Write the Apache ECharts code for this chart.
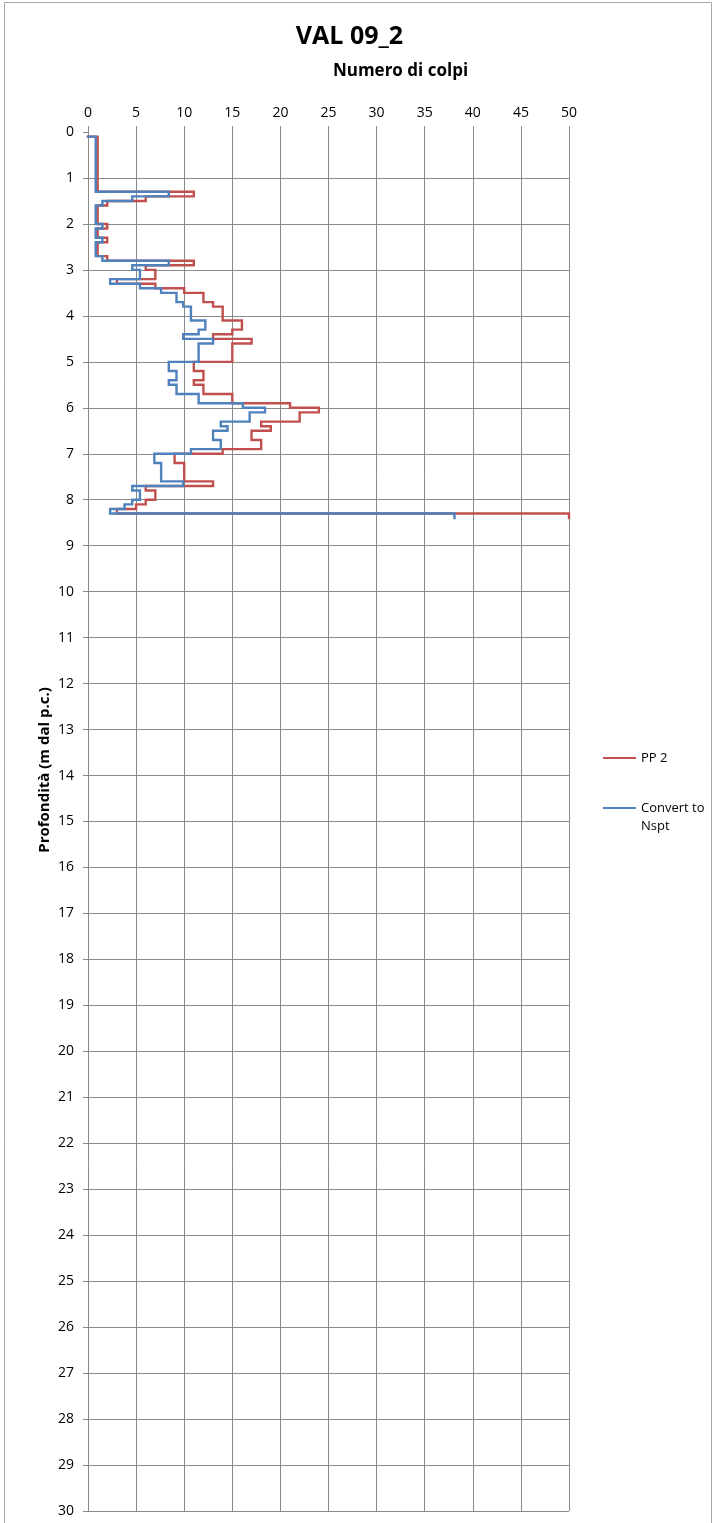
<!DOCTYPE html>
<html>
<head>
<meta charset="utf-8">
<script src="https://cdn.jsdelivr.net/npm/echarts@6/dist/echarts.min.js"></script>
<style>
  html, body { margin: 0; padding: 0; background: #ffffff; }
  #chart { width: 712px; height: 1523px; }
</style>
</head>
<body>
<div id="chart"></div>
<script>
// ---- data (step profile, depth in m) ----
const chartTitle = 'VAL 09_2';
const xAxisTitle = 'Numero di colpi';
const yAxisTitle = 'Profondità (m dal p.c.)';
const seriesNames = ['PP 2', 'Convert to Nspt'];

// top depth of each layer; each layer ends at the next top, the last at lastBottom
const layerTop = [0.1, 1.3, 1.4, 1.5, 1.6, 2.0, 2.1, 2.3, 2.4, 2.7,
                  2.8, 2.9, 3.0, 3.2, 3.3, 3.4, 3.5, 3.7, 3.8, 4.1,
                  4.3, 4.4, 4.5, 4.6, 5.0, 5.2, 5.4, 5.5, 5.7, 5.9,
                  6.0, 6.1, 6.3, 6.4, 6.5, 6.7, 6.9, 7.0, 7.2, 7.6,
                  7.7, 7.8, 8.0, 8.1, 8.2, 8.3];
const lastBottom = 8.4;
const startPoint = [0, 0.1];

const ppValues = [1, 11, 6, 2, 1, 2, 1, 2, 1, 2,
                  11, 6, 7, 3, 7, 10, 12, 13, 14, 16,
                  15, 13, 17, 15, 11, 12, 11, 12, 15, 21,
                  24, 22, 18, 19, 17, 18, 14, 9, 10, 13,
                  6, 7, 6, 5, 3, 50];

const nsptValues = [0.8, 8.4, 4.6, 1.5, 0.8, 1.5, 0.8, 1.5, 0.8, 1.5,
                    8.4, 4.6, 5.4, 2.3, 5.4, 7.6, 9.2, 9.9, 10.7, 12.2,
                    11.5, 9.9, 13.0, 11.5, 8.4, 9.2, 8.4, 9.2, 11.5, 16.1,
                    18.4, 16.8, 13.8, 14.5, 13.0, 13.8, 10.7, 6.9, 7.6, 9.9,
                    4.6, 5.4, 4.6, 3.8, 2.3, 38.1];

const xTicks = { min: 0, max: 50, interval: 5 };
const yTicks = { min: 0, max: 30, interval: 1 };

// build step polylines [value, depth]
function stepPoints(values) {
  const pts = [startPoint.slice()];
  for (let i = 0; i < values.length; i++) {
    const top = layerTop[i];
    const bottom = i + 1 < layerTop.length ? layerTop[i + 1] : lastBottom;
    pts.push([values[i], top]);
    pts.push([values[i], bottom]);
  }
  return pts;
}

const FONT = '"Open Sans", "Liberation Sans", sans-serif';
const GRID_COLOR = '#8a8a8a';
const RED = '#C0504D';
const BLUE = '#4F81BD';

const chart = echarts.init(document.getElementById('chart'), null, { renderer: 'canvas' });

chart.setOption({
  animation: false,
  backgroundColor: '#ffffff',
  textStyle: { fontFamily: FONT },
  grid: { left: 88, top: 132, width: 481, height: 1379, containLabel: false },
  xAxis: {
    type: 'value',
    position: 'top',
    min: xTicks.min, max: xTicks.max, interval: xTicks.interval,
    axisLine: { show: false },
    axisTick: { show: true, inside: false, length: 6, lineStyle: { color: GRID_COLOR, width: 1 } },
    axisLabel: { color: '#000', fontSize: 14, fontFamily: FONT, margin: 12 },
    splitLine: { show: true, showMinLine: false, lineStyle: { color: GRID_COLOR, width: 1 } }
  },
  yAxis: {
    type: 'value',
    inverse: true,
    min: yTicks.min, max: yTicks.max, interval: yTicks.interval,
    axisLine: { show: true, lineStyle: { color: GRID_COLOR, width: 1 } },
    axisTick: { show: true, inside: false, length: 5, lineStyle: { color: GRID_COLOR, width: 1 } },
    axisLabel: { color: '#000', fontSize: 14, fontFamily: FONT, margin: 14 },
    splitLine: { show: true, showMinLine: false, lineStyle: { color: GRID_COLOR, width: 1 } }
  },
  legend: {
    orient: 'vertical',
    left: 603,
    top: 749,
    padding: 0,
    itemWidth: 33,
    itemHeight: 2,
    itemGap: 14,
    icon: 'rect',
    textStyle: { color: '#000', fontSize: 13, fontFamily: FONT, lineHeight: 18 },
    formatter: function (name) { return name === 'Convert to Nspt' ? '\nConvert to\nNspt' : name; },
    data: [ { name: seriesNames[0] }, { name: seriesNames[1] } ]
  },
  series: [
    {
      name: seriesNames[0],
      type: 'line',
      data: stepPoints(ppValues),
      symbol: 'none',
      clip: false,
      color: RED,
      lineStyle: { color: RED, width: 2.4, join: 'miter', cap: 'square' },
      z: 2
    },
    {
      name: seriesNames[1],
      type: 'line',
      data: stepPoints(nsptValues),
      symbol: 'none',
      clip: false,
      color: BLUE,
      lineStyle: { color: BLUE, width: 2.4, join: 'miter', cap: 'square' },
      z: 3
    }
  ],
  graphic: [
    {
      type: 'polyline',
      silent: true,
      shape: { points: [[4.5, 1530], [4.5, 2.5], [711.5, 2.5], [711.5, 1530]] },
      style: { stroke: '#a6a6a6', lineWidth: 1, fill: null },
      z: 0
    },
    {
      type: 'text',
      x: 349.5, y: 36.5,
      style: { text: chartTitle, fontSize: 25, fontWeight: 'bold', fontFamily: FONT, fill: '#000',
               align: 'center', verticalAlign: 'middle' }
    },
    {
      type: 'text',
      x: 400.5, y: 71,
      style: { text: xAxisTitle, fontSize: 17, fontWeight: 'bold', fontFamily: FONT, fill: '#000',
               align: 'center', verticalAlign: 'middle' }
    },
    {
      type: 'text',
      x: 45, y: 770,
      rotation: Math.PI / 2,
      style: { text: yAxisTitle, fontSize: 15, fontWeight: 'bold', fontFamily: FONT, fill: '#000',
               align: 'center', verticalAlign: 'middle' }
    }
  ]
});
</script>
</body>
</html>
